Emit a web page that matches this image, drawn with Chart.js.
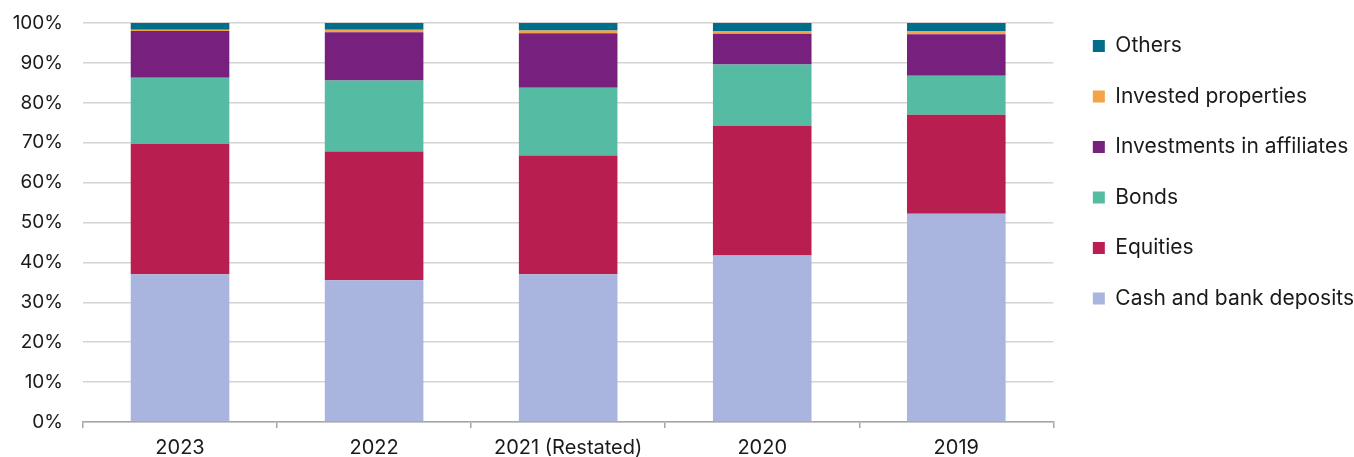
<!DOCTYPE html>
<html>
<head>
<meta charset="utf-8">
<script src="https://cdn.jsdelivr.net/npm/chart.js@4/dist/chart.umd.min.js"></script>
<style>
  html, body { margin: 0; padding: 0; background: #ffffff; }
  #wrap { width: 1354px; height: 457px; position: relative; }
</style>
</head>
<body>
<div id="wrap"><canvas id="chart"></canvas></div>
<script>
// Investment portfolio mix by year, share of total (%)
const categories = ['2023', '2022', '2021 (Restated)', '2020', '2019'];
const cashAndBankDeposits     = [37.0, 35.5, 37.0, 41.7, 52.2];
const equities                = [32.7, 32.3, 29.8, 32.5, 24.8];
const bonds                   = [16.6, 17.8, 17.0, 15.4,  9.8];
const investmentsInAffiliates = [11.7, 12.1, 13.6,  7.7, 10.4];
const investedProperties      = [ 0.3,  0.6,  0.7,  0.7,  0.8];
const others                  = [ 1.7,  1.7,  1.9,  2.0,  2.0];
const yTicks = [0, 10, 20, 30, 40, 50, 60, 70, 80, 90, 100];

const FONT = 'Inter';
const TEXT = '#1a1a1a';

// Moves the legend block after layout so it sits where the design wants it
const legendNudge = {
  id: 'legendNudge',
  afterLayout(chart, args, opts) {
    const lg = chart.legend;
    if (!lg) return;
    lg.left += opts.dx; lg.right += opts.dx;
    lg.top += opts.dy; lg.bottom += opts.dy;
  }
};

const series = [
  { label: 'Cash and bank deposits',    data: cashAndBankDeposits,     color: '#a9b5de' },
  { label: 'Equities',                  data: equities,                color: '#b81f50' },
  { label: 'Bonds',                     data: bonds,                   color: '#55bba2' },
  { label: 'Investments in affiliates', data: investmentsInAffiliates, color: '#78207d' },
  { label: 'Invested properties',       data: investedProperties,      color: '#f2a447' },
  { label: 'Others',                    data: others,                  color: '#006e8a' }
];

new Chart(document.getElementById('chart'), {
  type: 'bar',
  data: {
    labels: categories,
    datasets: series.map(s => ({
      label: s.label,
      data: s.data,
      backgroundColor: s.color,
      borderWidth: 0,
      categoryPercentage: 1.0,
      barPercentage: 0.508
    }))
  },
  plugins: [legendNudge],
  options: {
    responsive: true,
    maintainAspectRatio: false,
    animation: false,
    layout: { padding: { top: 23, right: 0, bottom: 0, left: 0 } },
    plugins: {
      legend: {
        position: 'right',
        align: 'start',
        reverse: true,
        maxWidth: 304,
        labels: {
          boxWidth: 12,
          boxHeight: 12,
          padding: 29.5,
          color: TEXT,
          font: { family: FONT, size: 21 }
        }
      },
      legendNudge: { dx: 10, dy: -17 },
      tooltip: { enabled: false }
    },
    scales: {
      x: {
        stacked: true,
        afterFit(scale) { scale.height = 35; },
        border: { display: true, color: '#a6a6a6', width: 1.5 },
        grid: {
          offset: true,
          drawOnChartArea: false,
          drawTicks: true,
          tickLength: 6,
          color: '#a6a6a6',
          lineWidth: 1.5
        },
        ticks: {
          color: TEXT,
          padding: 10,
          maxRotation: 0,
          font: { family: FONT, size: 20, lineHeight: 1.0 }
        }
      },
      y: {
        stacked: true,
        min: 0,
        max: 100,
        afterBuildTicks(scale) { scale.ticks = yTicks.map(v => ({ value: v })); },
        afterFit(scale) {
          scale.width = 83;
          scale.paddingTop = 0;
          scale.paddingBottom = 0;
        },
        border: { display: false },
        grid: { color: '#d4d4d4', lineWidth: 1.5, drawTicks: false },
        ticks: {
          color: TEXT,
          padding: 20,
          font: { family: FONT, size: 19 },
          callback: v => v + '%'
        }
      }
    }
  }
});
</script>
</body>
</html>
